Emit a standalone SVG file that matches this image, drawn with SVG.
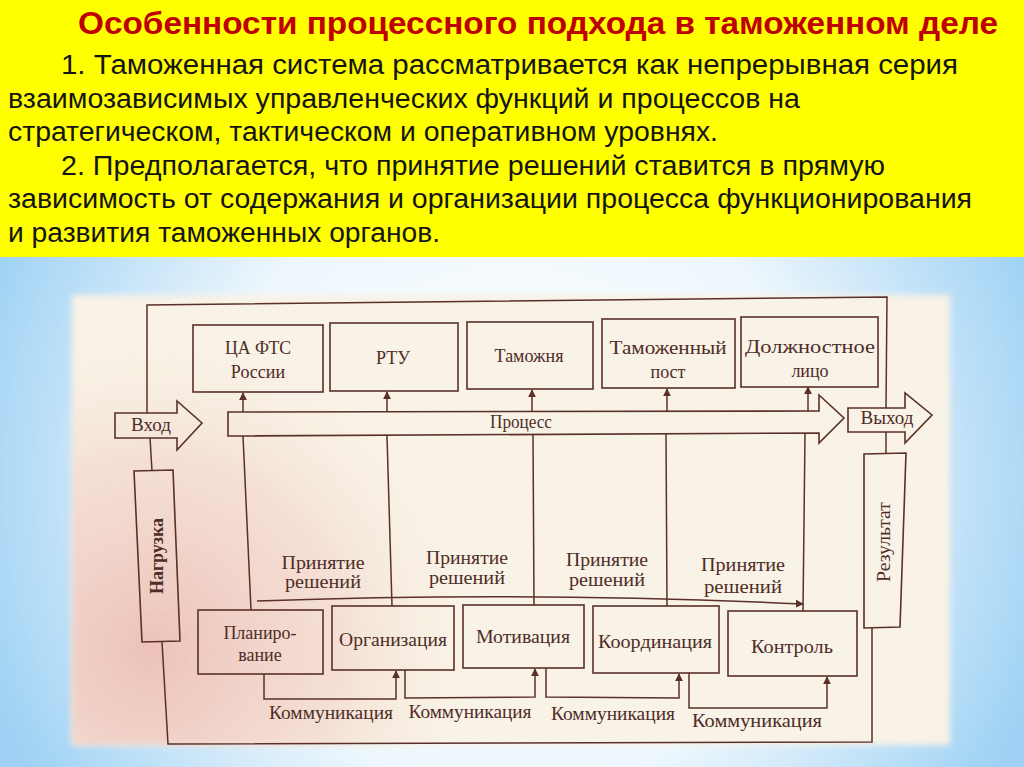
<svg xmlns="http://www.w3.org/2000/svg" width="1024" height="767" viewBox="0 0 1024 767">
<defs>
<radialGradient id="bg" cx="512" cy="480" r="560" gradientUnits="userSpaceOnUse">
<stop offset="0" stop-color="#ffffff"/>
<stop offset="0.55" stop-color="#eef7fd"/>
<stop offset="1" stop-color="#9fd2f4"/>
</radialGradient>
<radialGradient id="pink" cx="150" cy="650" r="320" gradientUnits="userSpaceOnUse">
<stop offset="0" stop-color="#eab9b0" stop-opacity="0.85"/>
<stop offset="0.6" stop-color="#f0cdc4" stop-opacity="0.5"/>
<stop offset="1" stop-color="#f6e9dc" stop-opacity="0"/>
</radialGradient>
<filter id="soft" x="-5%" y="-5%" width="110%" height="110%"><feGaussianBlur stdDeviation="3"/></filter>
<marker id="ah" viewBox="0 0 10 10" refX="9" refY="5" markerWidth="8" markerHeight="8" orient="auto" markerUnits="userSpaceOnUse">
<path d="M0,0 L10,5 L0,10 z" fill="#5a3028"/>
</marker>
<style>
.hd{font-family:"Liberation Sans Narrow","Liberation Sans",Arial,sans-serif;font-size:27px;fill:#151515}
.ttl{font-family:"Liberation Sans Narrow","Liberation Sans",Arial,sans-serif;font-size:31px;font-weight:bold;fill:#be0000}
.bx{fill:none;stroke:#5a3028;stroke-width:1.6}
.ln{fill:none;stroke:#5a3028;stroke-width:1.5}
.t{font-family:"Liberation Serif","Times New Roman",serif;font-size:18px;fill:#4e2d27;text-anchor:middle}
.tb{font-family:"Liberation Serif","Times New Roman",serif;font-size:18px;fill:#4e2d27;text-anchor:middle;font-weight:bold}
</style>
</defs>
<rect x="0" y="0" width="1024" height="767" fill="url(#bg)"/>
<rect x="0" y="0" width="1024" height="257" fill="#ffff00"/>
<g id="header">
<text class="ttl" x="78" y="34" textLength="920" lengthAdjust="spacingAndGlyphs">Особенности процессного подхода в таможенном деле</text>
<text class="hd" x="61" y="74" textLength="897" lengthAdjust="spacingAndGlyphs">1. Таможенная система рассматривается как непрерывная серия</text>
<text class="hd" x="8" y="108" textLength="792" lengthAdjust="spacingAndGlyphs">взаимозависимых управленческих функций и процессов на</text>
<text class="hd" x="8" y="141" textLength="710" lengthAdjust="spacingAndGlyphs">стратегическом, тактическом и оперативном уровнях.</text>
<text class="hd" x="61" y="175" textLength="824" lengthAdjust="spacingAndGlyphs">2. Предполагается, что принятие решений ставится в прямую</text>
<text class="hd" x="8" y="208" textLength="964" lengthAdjust="spacingAndGlyphs">зависимость от содержания и организации процесса функционирования</text>
<text class="hd" x="8" y="242" textLength="432" lengthAdjust="spacingAndGlyphs">и развития таможенных органов.</text>
</g>
<g id="paper">
<rect x="72" y="295" width="878" height="450" fill="#f9f2e6" filter="url(#soft)"/>
<rect x="72" y="295" width="878" height="450" fill="url(#pink)" filter="url(#soft)"/>
</g>
<g id="connectors">
<polyline class="ln" points="147,413 147,305 887,297 886,408"/>
<line class="ln" x1="150" y1="438" x2="152" y2="471"/>
<line class="ln" x1="886" y1="432" x2="886" y2="454"/>
<polyline class="ln" points="162,642 168,744 872,742 872,628"/>
<line class="ln" x1="243" y1="412" x2="243" y2="393" marker-end="url(#ah)"/>
<line class="ln" x1="387" y1="412" x2="387" y2="392" marker-end="url(#ah)"/>
<line class="ln" x1="532" y1="411" x2="532" y2="390" marker-end="url(#ah)"/>
<line class="ln" x1="667" y1="411" x2="667" y2="389" marker-end="url(#ah)"/>
<line class="ln" x1="808" y1="411" x2="808" y2="387" marker-end="url(#ah)"/>
<line class="ln" x1="243" y1="436" x2="251" y2="610"/>
<line class="ln" x1="387" y1="436" x2="392" y2="606"/>
<line class="ln" x1="533" y1="435" x2="534" y2="605"/>
<line class="ln" x1="666" y1="434" x2="667" y2="606"/>
<line class="ln" x1="805" y1="434" x2="803" y2="611"/>
<path class="ln" d="M257,601 Q530,591 803,604" marker-end="url(#ah)"/>
<polyline class="ln" points="264,674 264,699 396,699 396,671" marker-end="url(#ah)"/>
<polyline class="ln" points="405,670 405,698 535,697 535,669" marker-end="url(#ah)"/>
<polyline class="ln" points="546,668 546,697 679,698 679,674" marker-end="url(#ah)"/>
<polyline class="ln" points="689,673 689,708 827,708 827,677" marker-end="url(#ah)"/>
</g>
<g id="n-vhod">
<polygon class="bx" points="115,413 177,413 177,401 202,423 177,450 177,438 115,438" fill="#faf4ea"/>
<text class="t" x="151" y="431" textLength="40" lengthAdjust="spacingAndGlyphs">Вход</text>
</g>
<g id="n-process">
<polygon class="bx" points="228,412 819,411 819,395 844,418 819,443 819,433 228,436" fill="none"/>
<text class="t" x="521" y="428" textLength="62" lengthAdjust="spacingAndGlyphs">Процесс</text>
</g>
<g id="n-vyhod">
<polygon class="bx" points="848,408 905,408 905,393 932,415 905,443 905,432 848,432" fill="#faf4ea"/>
<text class="t" x="887" y="424" textLength="53" lengthAdjust="spacingAndGlyphs">Выход</text>
</g>
<g id="n-nagruzka">
<polygon class="bx" points="134,471 173,470 180,641 142,642"/>
<text class="tb" transform="translate(163,556) rotate(-90)" textLength="76" lengthAdjust="spacingAndGlyphs">Нагрузка</text>
</g>
<g id="n-rezultat">
<polygon class="bx" points="864,454 906,453 900,627 864,628"/>
<text class="t" transform="translate(890,542) rotate(-90)" textLength="80" lengthAdjust="spacingAndGlyphs">Результат</text>
</g>
<g id="n-ca">
<rect class="bx" x="193" y="325" width="130" height="67"/>
<text class="t" x="258" y="354" textLength="66" lengthAdjust="spacingAndGlyphs">ЦА ФТС</text>
<text class="t" x="258" y="378">России</text>
</g>
<g id="n-rtu">
<rect class="bx" x="330" y="323" width="128" height="68"/>
<text class="t" x="393" y="364">РТУ</text>
</g>
<g id="n-tamozhnya">
<rect class="bx" x="467" y="322" width="126" height="67"/>
<text class="t" x="529" y="362">Таможня</text>
</g>
<g id="n-post">
<rect class="bx" x="602" y="319" width="133" height="69"/>
<text class="t" x="668" y="354" textLength="117" lengthAdjust="spacingAndGlyphs">Таможенный</text>
<text class="t" x="668" y="378">пост</text>
</g>
<g id="n-litso">
<rect class="bx" x="741" y="317" width="137" height="70"/>
<text class="t" x="810" y="353" textLength="130" lengthAdjust="spacingAndGlyphs">Должностное</text>
<text class="t" x="810" y="377">лицо</text>
</g>
<g id="n-plan">
<rect class="bx" x="198" y="610" width="125" height="64"/>
<text class="t" x="260" y="639">Планиро-</text>
<text class="t" x="260" y="661">вание</text>
</g>
<g id="n-org">
<rect class="bx" x="332" y="606" width="122" height="64"/>
<text class="t" x="393" y="646" textLength="108" lengthAdjust="spacingAndGlyphs">Организация</text>
</g>
<g id="n-motiv">
<rect class="bx" x="463" y="605" width="121" height="63"/>
<text class="t" x="523" y="643" textLength="94" lengthAdjust="spacingAndGlyphs">Мотивация</text>
</g>
<g id="n-koord">
<rect class="bx" x="593" y="606" width="126" height="67"/>
<text class="t" x="655" y="648" textLength="114" lengthAdjust="spacingAndGlyphs">Координация</text>
</g>
<g id="n-kontrol">
<rect class="bx" x="728" y="611" width="129" height="65"/>
<text class="t" x="792" y="653" textLength="82" lengthAdjust="spacingAndGlyphs">Контроль</text>
</g>
<g id="labels-decision">
<text class="t" x="323" y="569" textLength="83" lengthAdjust="spacingAndGlyphs">Принятие</text>
<text class="t" x="323" y="588" textLength="76" lengthAdjust="spacingAndGlyphs">решений</text>
<text class="t" x="467" y="564" textLength="82" lengthAdjust="spacingAndGlyphs">Принятие</text>
<text class="t" x="467" y="584" textLength="76" lengthAdjust="spacingAndGlyphs">решений</text>
<text class="t" x="607" y="566" textLength="82" lengthAdjust="spacingAndGlyphs">Принятие</text>
<text class="t" x="607" y="586" textLength="76" lengthAdjust="spacingAndGlyphs">решений</text>
<text class="t" x="743" y="571" textLength="84" lengthAdjust="spacingAndGlyphs">Принятие</text>
<text class="t" x="743" y="593" textLength="78" lengthAdjust="spacingAndGlyphs">решений</text>
</g>
<g id="labels-comm">
<text class="t" x="331" y="719" textLength="124" lengthAdjust="spacingAndGlyphs">Коммуникация</text>
<text class="t" x="470" y="718" textLength="123" lengthAdjust="spacingAndGlyphs">Коммуникация</text>
<text class="t" x="613" y="720" textLength="124" lengthAdjust="spacingAndGlyphs">Коммуникация</text>
<text class="t" x="757" y="727" textLength="130" lengthAdjust="spacingAndGlyphs">Коммуникация</text>
</g>
</svg>
